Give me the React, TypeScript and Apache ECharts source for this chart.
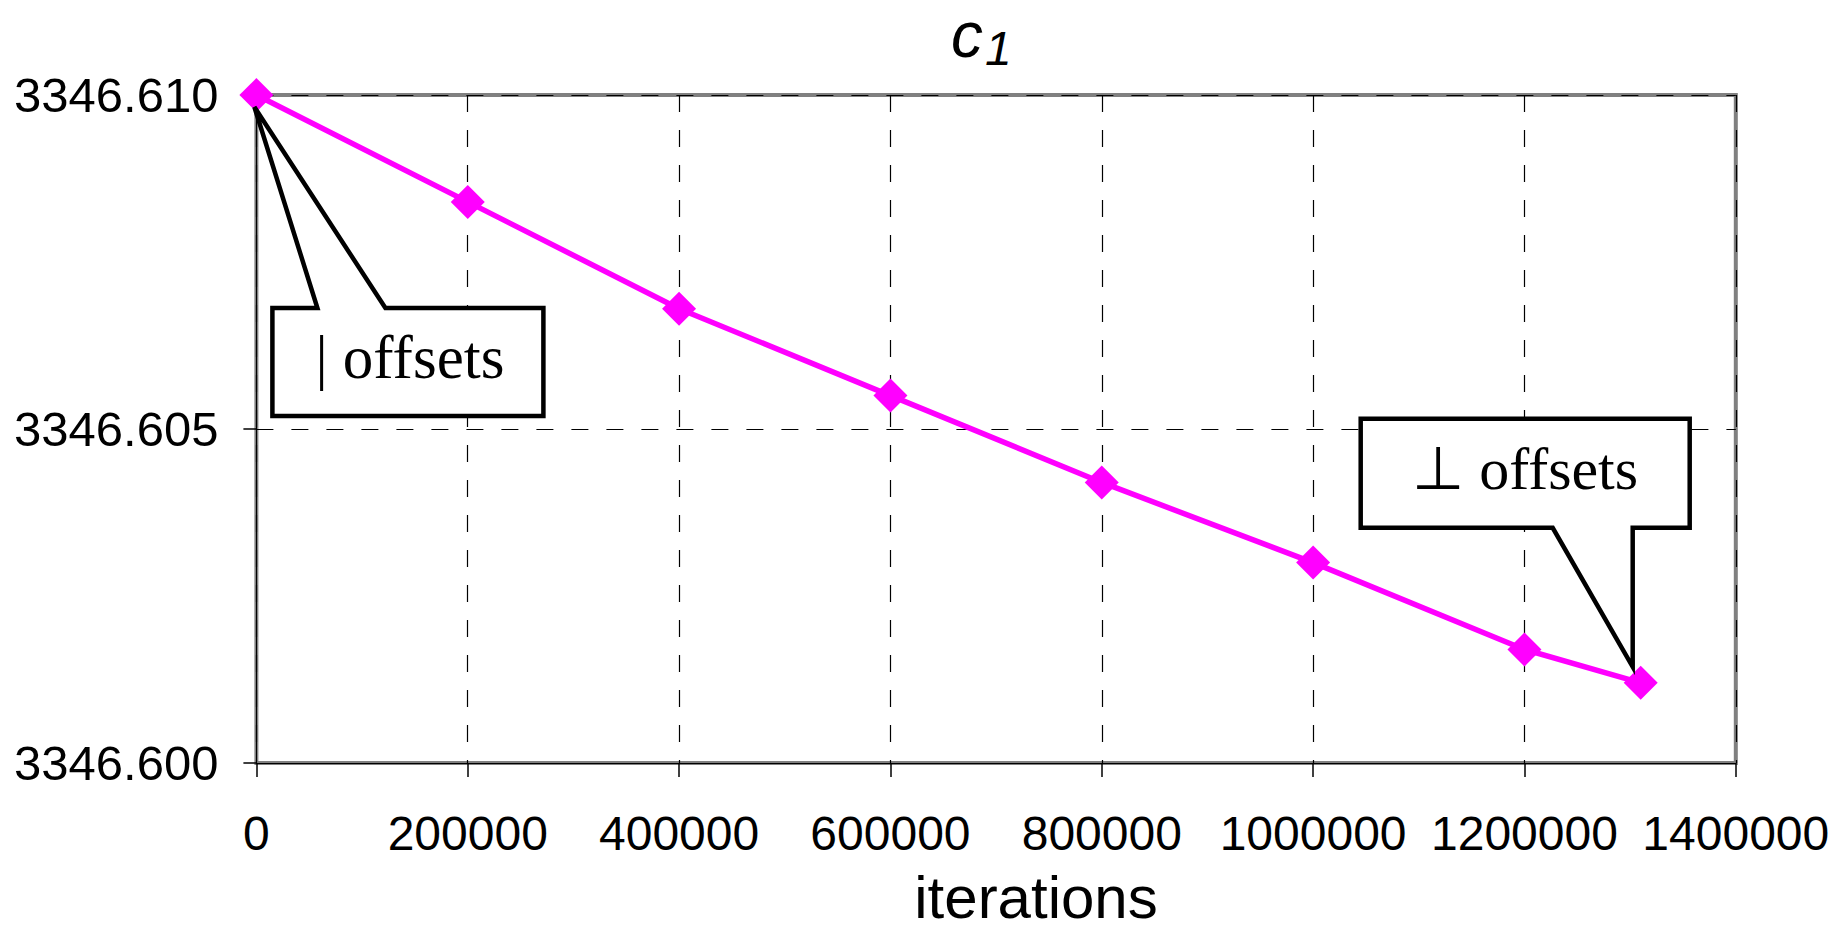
import React, { useEffect, useRef } from "react";
import * as echarts from "echarts";

// ---- data ----
const iterations = [0, 200000, 400000, 600000, 800000, 1000000, 1200000, 1310000];
const c1Values = [3346.61, 3346.6084, 3346.6068, 3346.6055, 3346.6042, 3346.603, 3346.6017, 3346.6012];
const xMin = 0;
const xMax = 1400000;
const xStep = 200000;
const yMin = 3346.6;
const yMax = 3346.61;
const yStep = 0.005;
const titleMain = "c";
const titleSub = "1";
const xAxisTitle = "iterations";
const calloutTexts = ["| offsets", "\u22a5 offsets"];

export default function App() {
  const ref = useRef<HTMLDivElement>(null);

  useEffect(() => {
    if (!ref.current) return;
    const chart = echarts.init(ref.current, undefined, { renderer: "svg" });
    const sans = "'Liberation Sans', Arial, sans-serif";
    const serif = "'Liberation Serif', 'Times New Roman', serif";

    chart.setOption({
      animation: false,
      backgroundColor: "#ffffff",
      grid: {
        left: 256.4,
        right: 104.2,
        top: 95,
        bottom: 176,
        show: true,
        borderColor: "#808080",
        borderWidth: 4,
        backgroundColor: "transparent",
      },
      xAxis: {
        type: "value",
        min: xMin,
        max: xMax,
        interval: xStep,
        axisLine: { show: true, lineStyle: { color: "#000", width: 1 } },
        axisTick: { show: true, length: 14, lineStyle: { color: "#000", width: 1.5 } },
        axisLabel: {
          margin: 46,
          color: "#000",
          fontSize: 48,
          fontFamily: sans,
          formatter: (v: number) => String(v),
        },
        splitLine: { show: true, lineStyle: { color: "#000", width: 1.2, type: [17, 18] } },
      },
      yAxis: {
        type: "value",
        min: yMin,
        max: yMax,
        interval: yStep,
        axisLine: { show: true, lineStyle: { color: "#000", width: 1 } },
        axisTick: { show: true, length: 13, lineStyle: { color: "#000", width: 1.5 } },
        axisLabel: {
          margin: 38,
          color: "#000",
          fontSize: 49,
          fontFamily: sans,
          padding: [0, 0, 8, 0],
          formatter: (v: number) => v.toFixed(3),
        },
        splitLine: { show: true, lineStyle: { color: "#000", width: 1.2, type: [17, 18] } },
      },
      series: [
        {
          type: "line",
          z: 5,
          clip: false,
          data: iterations.map((x, i) => [x, c1Values[i]]),
          symbol: "diamond",
          symbolSize: 34,
          lineStyle: { color: "#ff00ff", width: 5.5 },
          itemStyle: { color: "#ff00ff" },
        },
      ],
    });

    const p0 = chart.convertToPixel({ seriesIndex: 0 }, [iterations[0], c1Values[0]]) as number[];
    const last = iterations.length - 1;
    const pN = chart.convertToPixel({ seriesIndex: 0 }, [iterations[last], c1Values[last]]) as number[];

    // left callout geometry relative to first point
    const lt = [p0[0] - 2, p0[1] + 12];
    const lL = p0[0] + 16, lR = p0[0] + 287, lT = p0[1] + 213, lB = p0[1] + 321;
    const lb1 = p0[0] + 61, lb2 = p0[0] + 129;
    // right callout geometry relative to last point
    const rt = [pN[0] - 8, pN[1] - 16];
    const rL = pN[0] - 280, rR = pN[0] + 49, rT = pN[1] - 264, rB = pN[1] - 155;
    const rb1 = pN[0] - 88, rb2 = pN[0] - 8;

    const calloutStyle = { fill: "#ffffff", stroke: "#000000", lineWidth: 4.5, lineJoin: "miter" };

    chart.setOption({
      graphic: [
        {
          type: "text",
          z: 10,
          x: 951,
          y: 35,
          style: {
            text: titleMain,
            fontSize: 64,
            fontStyle: "italic",
            fontFamily: sans,
            fill: "#000",
            align: "left",
            verticalAlign: "middle",
          },
        },
        {
          type: "text",
          z: 10,
          x: 985,
          y: 48.4,
          style: {
            text: titleSub,
            fontSize: 48,
            fontStyle: "italic",
            fontFamily: sans,
            fill: "#000",
            align: "left",
            verticalAlign: "middle",
          },
        },
        {
          type: "text",
          z: 10,
          x: 1036,
          y: 897,
          style: {
            text: xAxisTitle,
            fontSize: 60,
            fontFamily: sans,
            fill: "#000",
            align: "center",
            verticalAlign: "middle",
          },
        },
        {
          type: "polygon",
          z: 10,
          shape: {
            points: [
              [lL, lT],
              [lb1, lT],
              lt,
              [lb2, lT],
              [lR, lT],
              [lR, lB],
              [lL, lB],
            ],
          },
          style: calloutStyle,
        },
        {
          type: "text",
          z: 11,
          x: (lL + lR) / 2 + 2,
          y: lT + 49,
          style: {
            text: calloutTexts[0],
            fontSize: 61,
            fontFamily: serif,
            fill: "#000",
            align: "center",
            verticalAlign: "middle",
          },
        },
        {
          type: "polygon",
          z: 10,
          shape: {
            points: [
              [rL, rT],
              [rR, rT],
              [rR, rB],
              [rb2, rB],
              rt,
              [rb1, rB],
              [rL, rB],
            ],
          },
          style: calloutStyle,
        },
        {
          type: "text",
          z: 11,
          x: (rL + rR) / 2,
          y: rT + 50,
          style: {
            text: calloutTexts[1],
            fontSize: 60,
            fontFamily: serif,
            fill: "#000",
            align: "center",
            verticalAlign: "middle",
          },
        },
      ],
    });

    return () => chart.dispose();
  }, []);

  return (
    <div
      ref={ref}
      style={{ position: "fixed", left: 0, top: 0, width: 1840, height: 939, background: "#fff" }}
    />
  );
}
